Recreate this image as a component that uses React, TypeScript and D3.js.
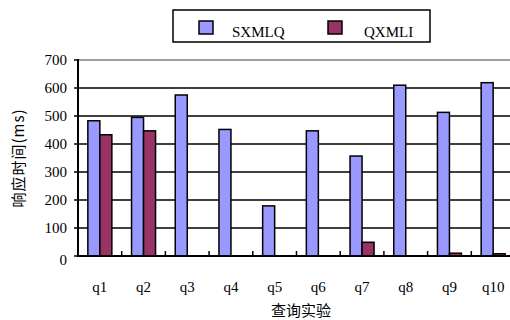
import React from "react";
import * as d3 from "d3";

const categories = ["q1", "q2", "q3", "q4", "q5", "q6", "q7", "q8", "q9", "q10"];
const sxmlq = [483, 495, 575, 452, 179, 447, 357, 610, 513, 619];
const qxmli = [433, 447, 0, 0, 0, 0, 49, 0, 10, 8];
const yTicks = [0, 100, 200, 300, 400, 500, 600, 700];
const seriesNames = ["SXMLQ", "QXMLI"];
const seriesColors = ["#9999FF", "#993366"];

export default function App() {
  const W = 510, H = 320;
  const left = 78, right = 515, top = 60, bottom = 256;
  const x = d3.scaleBand<string>().domain(categories).range([left, right]);
  const y = d3.scaleLinear().domain([0, 700]).range([bottom, top]);
  const bw = 12;
  const series = [sxmlq, qxmli];
  const serifStyle = { fontFamily: "Liberation Serif, DejaVu Serif, serif" };
  const sansStyle = { fontFamily: "Noto Sans CJK SC, sans-serif" };
  return (
    <svg width={W} height={H} style={{ position: "absolute", left: 0, top: 0 }}>
      <rect x={0} y={0} width={W} height={H} fill="#fff" />
      {yTicks.filter(t => t > 0 && t < 700).map(t => (
        <line key={t} x1={left} x2={W} y1={y(t)} y2={y(t)} stroke="#000" strokeWidth={1.5} />
      ))}
      <line x1={left} x2={W} y1={y(700)} y2={y(700)} stroke="#808080" strokeWidth={1.5} />
      {categories.map((c, i) => {
        const cx = x(c)! + x.bandwidth() / 2;
        return series.map((s, j) => {
          const v = s[i];
          if (v <= 0) return null;
          const bx = cx - bw + j * bw;
          return (
            <rect key={c + j} x={bx} y={y(v)} width={bw} height={bottom - y(v)}
              fill={seriesColors[j]} stroke="#000" strokeWidth={1.5} />
          );
        });
      })}
      <line x1={left} x2={left} y1={top - 1} y2={bottom + 1} stroke="#000" strokeWidth={2} />
      <line x1={left - 1} x2={W} y1={bottom} y2={bottom} stroke="#000" strokeWidth={2} />
      {yTicks.map(t => (
        <line key={"yt" + t} x1={left - 4} x2={left} y1={y(t)} y2={y(t)} stroke="#000" strokeWidth={1.5} />
      ))}
      {categories.slice(1).map(c => (
        <line key={"xt" + c} x1={x(c)!} x2={x(c)!} y1={bottom - 5} y2={bottom} stroke="#000" strokeWidth={1.5} />
      ))}
      {yTicks.map(t => (
        <text key={"yl" + t} x={left - 11} y={y(t) + 5 + (t === 0 ? 4 : 0)} textAnchor="end" style={serifStyle} fontSize={15} fill="#000">{t}</text>
      ))}
      {categories.map(c => (
        <text key={"xl" + c} x={x(c)! + x.bandwidth() / 2} y={292} textAnchor="middle" style={serifStyle} fontSize={15} fill="#000">{c}</text>
      ))}
      <text x={301} y={316} textAnchor="middle" style={sansStyle} fontSize={15} fill="#000">查询实验</text>
      <text transform="translate(24,158) rotate(-90)" textAnchor="middle" style={sansStyle} fontSize={15} letterSpacing={1} fill="#000">响应时间(ms)</text>
      <rect x={173} y={10} width={257} height={32} fill="#fff" stroke="#000" strokeWidth={1.5} />
      {seriesNames.map((n, j) => (
        <g key={n}>
          <rect x={199 + j * 129} y={21} width={14} height={13} fill={seriesColors[j]} stroke="#000" strokeWidth={1.5} />
          <text x={232 + j * 132} y={37} style={serifStyle} fontSize={15} fill="#000">{n}</text>
        </g>
      ))}
    </svg>
  );
}
